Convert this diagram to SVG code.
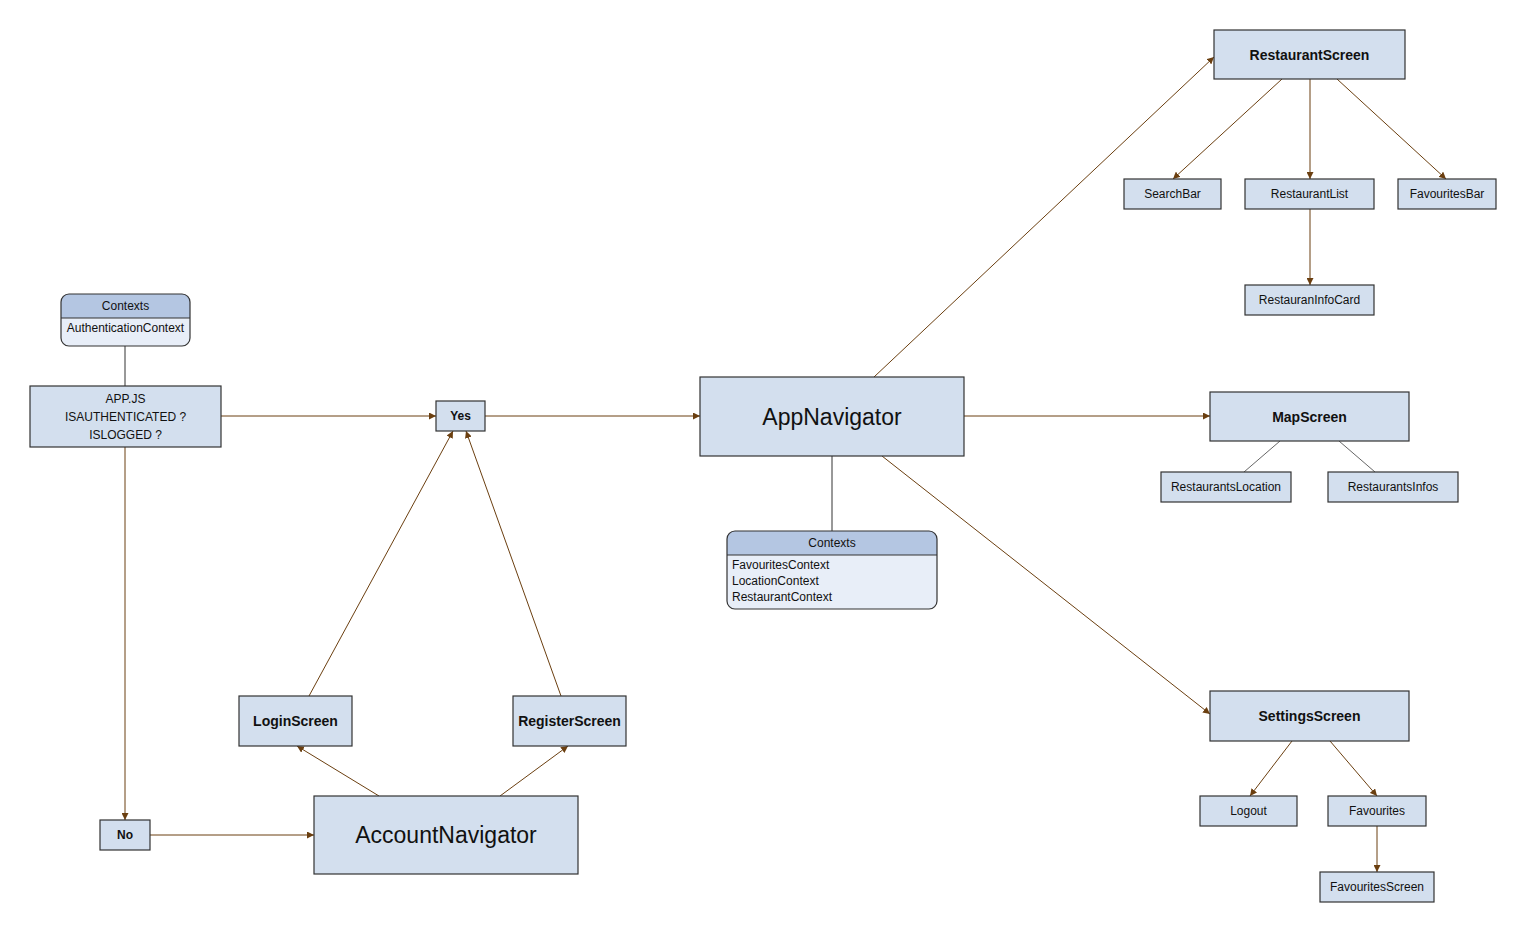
<svg xmlns="http://www.w3.org/2000/svg" width="1527" height="932" viewBox="0 0 1527 932">
<defs>
<style>
.box{fill:#d3dfee;stroke:#333;stroke-width:1.2}
.t{font-family:"Liberation Sans",Arial,sans-serif;fill:#111;text-anchor:middle;dominant-baseline:central}
.s{font-size:12px}
.b{font-size:14px;font-weight:bold}
.big{font-size:23px}
.c{stroke:#6b3f10;stroke-width:1;fill:none;marker-end:url(#ah)}
.p{stroke:#333;stroke-width:1;fill:none}
.g{stroke:#555;stroke-width:0.9;fill:none}
.hd{fill:#b4c6e2;stroke:none}
.bd{fill:#e8eef8;stroke:none}
.l{font-family:"Liberation Sans",Arial,sans-serif;font-size:12px;fill:#111}
</style>
<marker id="ah" viewBox="0 0 10 10" refX="10" refY="5" markerWidth="7" markerHeight="7" orient="auto" markerUnits="userSpaceOnUse">
<path d="M0,0 L10,5 L0,10 z" fill="#6b3f10"/>
</marker>
<clipPath id="cp1"><rect x="61" y="294" width="129" height="52" rx="8"/></clipPath>
<clipPath id="cp2"><rect x="727" y="531" width="210" height="78" rx="8"/></clipPath>
</defs>
<rect width="1527" height="932" fill="#fff"/>
<g id="connectors">
<line class="p" x1="125" y1="346" x2="125" y2="386"/>
<line class="c" x1="221" y1="416" x2="436" y2="416"/>
<line class="c" x1="485" y1="416" x2="700" y2="416"/>
<line class="c" x1="125" y1="447" x2="125" y2="820"/>
<line class="c" x1="150" y1="835" x2="314" y2="835"/>
<line class="c" x1="379" y1="796" x2="297" y2="746"/>
<line class="c" x1="500" y1="796" x2="568" y2="746"/>
<line class="c" x1="309" y1="696" x2="453" y2="431"/>
<line class="c" x1="561" y1="696" x2="466" y2="431"/>
<line class="c" x1="874" y1="377" x2="1214" y2="57"/>
<line class="c" x1="964" y1="416" x2="1210" y2="416"/>
<line class="c" x1="882" y1="456" x2="1210" y2="714"/>
<line class="p" x1="832" y1="456" x2="832" y2="531"/>
<line class="c" x1="1282" y1="79" x2="1173" y2="179"/>
<line class="c" x1="1310" y1="79" x2="1310" y2="179"/>
<line class="c" x1="1337" y1="79" x2="1446" y2="179"/>
<line class="c" x1="1310" y1="209" x2="1310" y2="285"/>
<line class="g" x1="1280" y1="441" x2="1244" y2="472"/>
<line class="g" x1="1339" y1="441" x2="1375" y2="472"/>
<line class="c" x1="1292" y1="741" x2="1250" y2="796"/>
<line class="c" x1="1330" y1="741" x2="1377" y2="796"/>
<line class="c" x1="1377" y1="826" x2="1377" y2="872"/>
</g>
<g id="ctx-auth">
<g clip-path="url(#cp1)">
<rect class="bd" x="61" y="294" width="129" height="52"/>
<rect class="hd" x="61" y="294" width="129" height="24"/>
</g>
<line class="p" x1="61" y1="318" x2="190" y2="318"/>
<rect x="61" y="294" width="129" height="52" rx="8" fill="none" stroke="#333" stroke-width="1.2"/>
<text class="t s" x="125.5" y="306">Contexts</text>
<text class="t s" x="125.5" y="328">AuthenticationContext</text>
</g>
<g id="appjs">
<rect class="box" x="30" y="386" width="191" height="61"/>
<text class="t s" x="125.5" y="399">APP.JS</text>
<text class="t s" x="125.5" y="417">ISAUTHENTICATED ?</text>
<text class="t s" x="125.5" y="435">ISLOGGED ?</text>
</g>
<g id="yes">
<rect class="box" x="436" y="401" width="49" height="30"/>
<text class="t s" x="460.5" y="416" font-weight="bold">Yes</text>
</g>
<g id="no">
<rect class="box" x="100" y="820" width="50" height="30"/>
<text class="t s" x="125" y="835" font-weight="bold">No</text>
</g>
<g id="appnavigator">
<rect class="box" x="700" y="377" width="264" height="79"/>
<text class="t big" x="832" y="417">AppNavigator</text>
</g>
<g id="ctx-app">
<g clip-path="url(#cp2)">
<rect class="bd" x="727" y="531" width="210" height="78"/>
<rect class="hd" x="727" y="531" width="210" height="24"/>
</g>
<line class="p" x1="727" y1="555" x2="937" y2="555"/>
<rect x="727" y="531" width="210" height="78" rx="8" fill="none" stroke="#333" stroke-width="1.2"/>
<text class="t s" x="832" y="543">Contexts</text>
<text class="l" x="732" y="569">FavouritesContext</text>
<text class="l" x="732" y="585">LocationContext</text>
<text class="l" x="732" y="601">RestaurantContext</text>
</g>
<g id="accountnavigator">
<rect class="box" x="314" y="796" width="264" height="78"/>
<text class="t big" x="446" y="835">AccountNavigator</text>
</g>
<g id="loginscreen">
<rect class="box" x="239" y="696" width="113" height="50"/>
<text class="t b" x="295.5" y="721">LoginScreen</text>
</g>
<g id="registerscreen">
<rect class="box" x="513" y="696" width="113" height="50"/>
<text class="t b" x="569.5" y="721">RegisterScreen</text>
</g>
<g id="restaurantscreen">
<rect class="box" x="1214" y="30" width="191" height="49"/>
<text class="t b" x="1309.5" y="55">RestaurantScreen</text>
</g>
<g id="searchbar">
<rect class="box" x="1124" y="179" width="97" height="30"/>
<text class="t s" x="1172.5" y="194">SearchBar</text>
</g>
<g id="restaurantlist">
<rect class="box" x="1245" y="179" width="129" height="30"/>
<text class="t s" x="1309.5" y="194">RestaurantList</text>
</g>
<g id="favouritesbar">
<rect class="box" x="1398" y="179" width="98" height="30"/>
<text class="t s" x="1447" y="194">FavouritesBar</text>
</g>
<g id="restauraninfocard">
<rect class="box" x="1245" y="285" width="129" height="30"/>
<text class="t s" x="1309.5" y="300">RestauranInfoCard</text>
</g>
<g id="mapscreen">
<rect class="box" x="1210" y="392" width="199" height="49"/>
<text class="t b" x="1309.5" y="417">MapScreen</text>
</g>
<g id="restaurantslocation">
<rect class="box" x="1161" y="472" width="130" height="30"/>
<text class="t s" x="1226" y="487">RestaurantsLocation</text>
</g>
<g id="restaurantsinfos">
<rect class="box" x="1328" y="472" width="130" height="30"/>
<text class="t s" x="1393" y="487">RestaurantsInfos</text>
</g>
<g id="settingsscreen">
<rect class="box" x="1210" y="691" width="199" height="50"/>
<text class="t b" x="1309.5" y="716">SettingsScreen</text>
</g>
<g id="logout">
<rect class="box" x="1200" y="796" width="97" height="30"/>
<text class="t s" x="1248.5" y="811">Logout</text>
</g>
<g id="favourites">
<rect class="box" x="1328" y="796" width="98" height="30"/>
<text class="t s" x="1377" y="811">Favourites</text>
</g>
<g id="favouritesscreen">
<rect class="box" x="1320" y="872" width="114" height="30"/>
<text class="t s" x="1377" y="887">FavouritesScreen</text>
</g>
</svg>
